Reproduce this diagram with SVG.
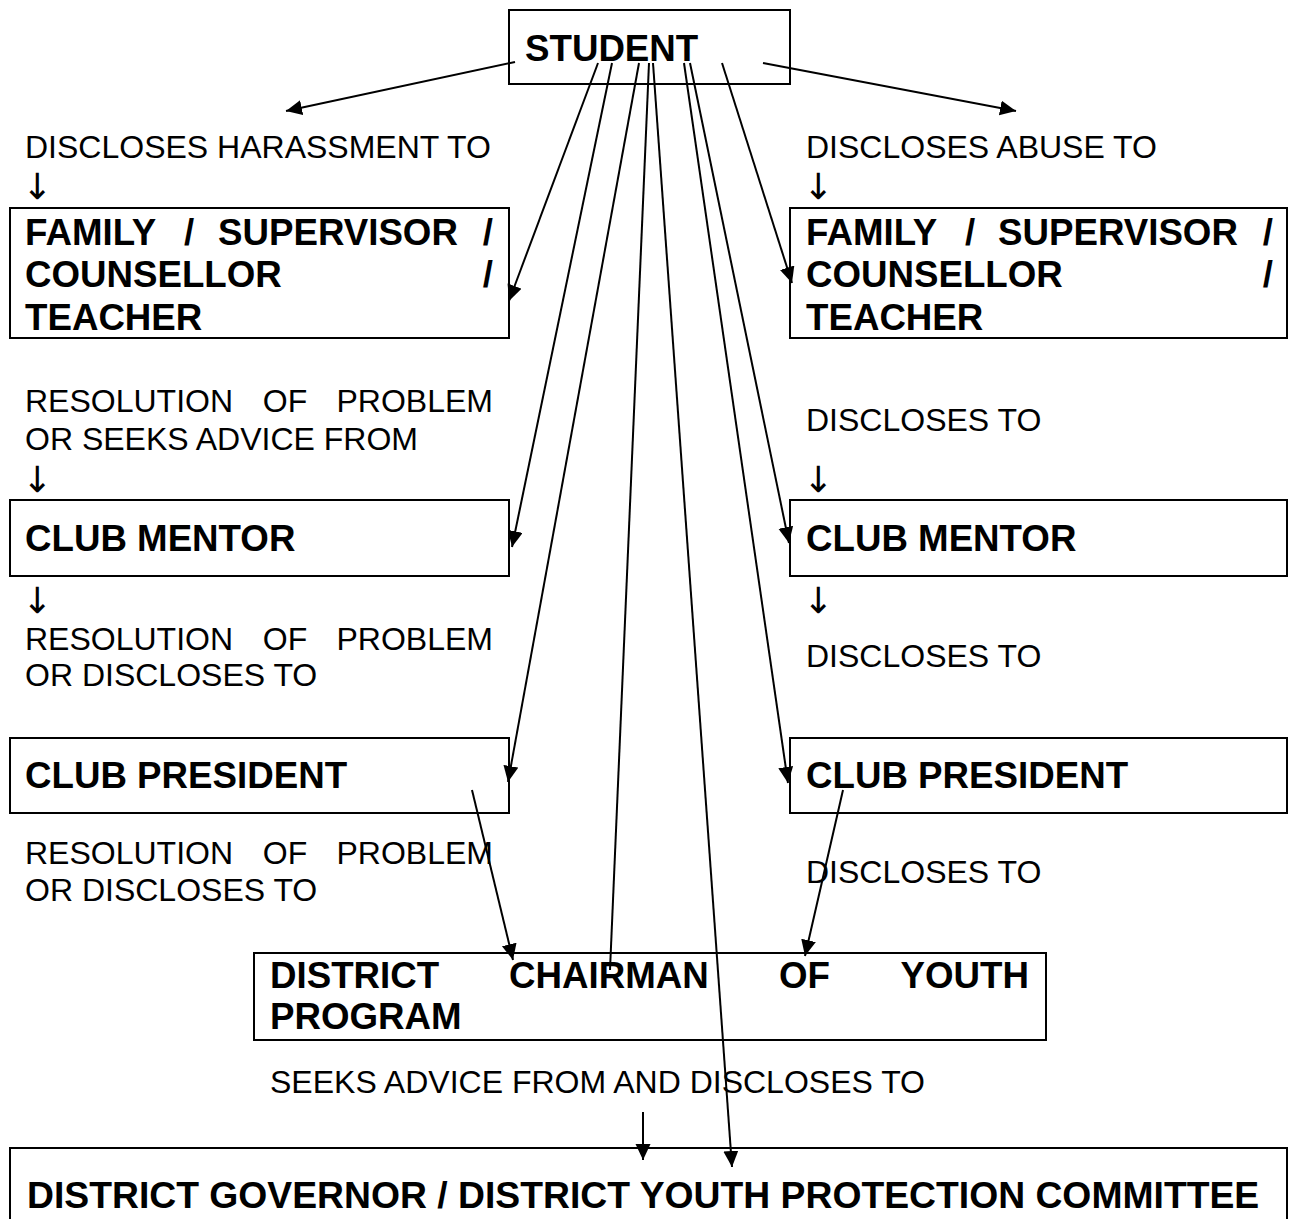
<svg xmlns="http://www.w3.org/2000/svg" width="1289" height="1219" viewBox="0 0 1289 1219">
<style>
.box{fill:#fff;stroke:#000;stroke-width:2}
.b{font-family:"Liberation Sans",Arial,sans-serif;font-weight:bold;font-size:36.7px;fill:#000}
.r{font-family:"Liberation Sans",Arial,sans-serif;font-size:32px;fill:#000}
.ar{font-family:"DejaVu Sans","Liberation Sans",sans-serif;font-size:36px;fill:#000}
.c{stroke:#000;stroke-width:2;fill:none}
.e{text-anchor:end}
.m{text-anchor:middle}
</style>
<defs>
<marker id="ah" markerUnits="userSpaceOnUse" markerWidth="18" markerHeight="17" refX="16" refY="7.5" orient="auto">
<path d="M0,0 L16,7.5 L0,15 z" fill="#000"/>
</marker>
</defs>
<rect width="1289" height="1219" fill="#fff"/>

<g id="student"><rect class="box" x="509" y="10" width="281" height="74"/><text class="b" x="525" y="61">STUDENT</text></g>

<g id="label-harassment"><text class="r" x="25" y="158">DISCLOSES HARASSMENT TO</text><text class="ar" x="22" y="199">↓</text></g>
<g id="label-abuse"><text class="r" x="806" y="158">DISCLOSES ABUSE TO</text><text class="ar" x="803" y="199">↓</text></g>

<g id="family-left"><rect class="box" x="10" y="208" width="499" height="130"/>
<text class="b" y="245"><tspan x="25">FAMILY</tspan><tspan x="189" class="m">/</tspan><tspan x="218">SUPERVISOR</tspan><tspan x="493" class="e">/</tspan></text>
<text class="b" y="287"><tspan x="25">COUNSELLOR</tspan><tspan x="493" class="e">/</tspan></text>
<text class="b" x="25" y="330">TEACHER</text></g>

<g id="family-right"><rect class="box" x="790" y="208" width="497" height="130"/>
<text class="b" y="245"><tspan x="806">FAMILY</tspan><tspan x="970" class="m">/</tspan><tspan x="998">SUPERVISOR</tspan><tspan x="1273" class="e">/</tspan></text>
<text class="b" y="287"><tspan x="806">COUNSELLOR</tspan><tspan x="1273" class="e">/</tspan></text>
<text class="b" x="806" y="330">TEACHER</text></g>

<g id="label-left-2"><text class="r" y="412"><tspan x="25">RESOLUTION</tspan><tspan x="285" class="m">OF</tspan><tspan x="493" class="e">PROBLEM</tspan></text>
<text class="r" x="25" y="450">OR SEEKS ADVICE FROM</text><text class="ar" x="22" y="492">↓</text></g>
<g id="label-right-2"><text class="r" x="806" y="431">DISCLOSES TO</text><text class="ar" x="803" y="492">↓</text></g>

<g id="mentor-left"><rect class="box" x="10" y="500" width="499" height="76"/><text class="b" x="25" y="551">CLUB MENTOR</text></g>
<g id="mentor-right"><rect class="box" x="790" y="500" width="497" height="76"/><text class="b" x="806" y="551">CLUB MENTOR</text></g>

<g id="label-left-3"><text class="ar" x="22" y="613">↓</text><text class="r" y="650"><tspan x="25">RESOLUTION</tspan><tspan x="285" class="m">OF</tspan><tspan x="493" class="e">PROBLEM</tspan></text>
<text class="r" x="25" y="686">OR DISCLOSES TO</text></g>
<g id="label-right-3"><text class="ar" x="803" y="613">↓</text><text class="r" x="806" y="667">DISCLOSES TO</text></g>

<g id="president-left"><rect class="box" x="10" y="738" width="499" height="75"/><text class="b" x="25" y="788">CLUB PRESIDENT</text></g>
<g id="president-right"><rect class="box" x="790" y="738" width="497" height="75"/><text class="b" x="806" y="788">CLUB PRESIDENT</text></g>

<g id="label-left-4"><text class="r" y="864"><tspan x="25">RESOLUTION</tspan><tspan x="285" class="m">OF</tspan><tspan x="493" class="e">PROBLEM</tspan></text>
<text class="r" x="25" y="901">OR DISCLOSES TO</text></g>
<g id="label-right-4"><text class="r" x="806" y="883">DISCLOSES TO</text></g>

<g id="chairman"><rect class="box" x="254" y="953" width="792" height="87"/>
<text class="b" y="988"><tspan x="270">DISTRICT</tspan><tspan x="509">CHAIRMAN</tspan><tspan x="779">OF</tspan><tspan x="1029" class="e">YOUTH</tspan></text>
<text class="b" x="270" y="1029">PROGRAM</text></g>

<g id="label-bottom"><text class="r" x="270" y="1093">SEEKS ADVICE FROM AND DISCLOSES TO</text></g>

<g id="governor"><rect class="box" x="10" y="1148" width="1277" height="90"/>
<text class="b" x="27" y="1208" style="font-size:37.3px">DISTRICT GOVERNOR / DISTRICT YOUTH PROTECTION COMMITTEE</text></g>

<g id="connectors">
<line class="c" x1="515" y1="62" x2="286" y2="111" marker-end="url(#ah)"/>
<line class="c" x1="763" y1="63" x2="1016" y2="111" marker-end="url(#ah)"/>
<line class="c" x1="598" y1="63" x2="509" y2="301" marker-end="url(#ah)"/>
<line class="c" x1="612" y1="63" x2="512" y2="547" marker-end="url(#ah)"/>
<line class="c" x1="639" y1="63" x2="508" y2="782" marker-end="url(#ah)"/>
<line class="c" x1="649" y1="63" x2="610" y2="970"/>
<line class="c" x1="653" y1="63" x2="732" y2="1167" marker-end="url(#ah)"/>
<line class="c" x1="684" y1="63" x2="788" y2="783" marker-end="url(#ah)"/>
<line class="c" x1="690" y1="63" x2="789" y2="543" marker-end="url(#ah)"/>
<line class="c" x1="722" y1="63" x2="792" y2="283" marker-end="url(#ah)"/>
<line class="c" x1="472" y1="790" x2="513" y2="960" marker-end="url(#ah)"/>
<line class="c" x1="843" y1="790" x2="805" y2="956" marker-end="url(#ah)"/>
<line class="c" x1="643" y1="1112" x2="643" y2="1160" marker-end="url(#ah)"/>
</g>
</svg>
